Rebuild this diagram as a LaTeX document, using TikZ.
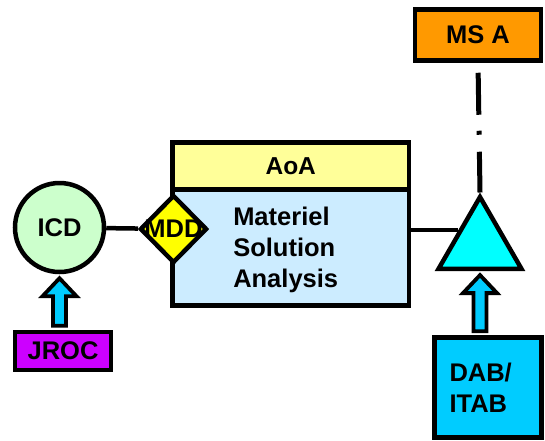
\documentclass[tikz,border=0pt]{standalone}
\usepackage{fontspec}
\setmainfont{Liberation Sans}
\usepackage{tikz}
\usetikzlibrary{shapes.geometric,calc}
\definecolor{icdgruen}{HTML}{CCFFCC}
\definecolor{mddgelb}{HTML}{FFFF00}
\definecolor{aoagelb}{HTML}{FFFF99}
\definecolor{msablau}{HTML}{CCECFF}
\definecolor{dreieck}{HTML}{00FFFF}
\definecolor{msorange}{HTML}{FF9900}
\definecolor{dabblau}{HTML}{00CCFF}
\definecolor{jroclila}{HTML}{CC00FF}
\definecolor{hebblau}{HTML}{00CCFF}

% block arrow pointing up, from #1 (below) to #2 (above)
\newcommand\hebepfeil[2]{%
  \draw[hebestil] let \p1=(#1), \p2=(#2) in
    (\x1-6.5pt,\y1+4pt) -- (\x1-6.5pt,\y2-22pt) -- (\x1-17pt,\y2-22pt) -- (\x1,\y2-4pt)
    -- (\x1+17pt,\y2-22pt) -- (\x1+6.5pt,\y2-22pt) -- (\x1+6.5pt,\y1+4pt) -- cycle;}

\begin{document}
\begin{tikzpicture}[x=1pt, y=-1pt, line width=4.5pt,
    every node/.style={draw=black, line width=4.5pt, inner sep=0pt, font=\bfseries\fontsize{25.5}{31}\selectfont},
    hebestil/.style={draw=black, fill=hebblau, line width=3.8pt}]
        \useasboundingbox (0,0) rectangle (545,440);
        \node[rectangle, fill=aoagelb, minimum width=236.5, minimum height=47, font=\bfseries\fontsize{24.5}{28}\selectfont] (aoa) at (290.75,166) {AoA};
        \node[rectangle, fill=msablau, minimum width=236.5, minimum height=116] (analysis) at (290.75,247.5) {};
        \node[draw=none, anchor=west, align=left] (analysistext) at (231,249.5) {Materiel\\Solution\\Analysis};
        \node[circle, fill=icdgruen, minimum size=89] (icd) at (59.5,227.5) {ICD};
        \node[diamond, fill=mddgelb, minimum width=67, minimum height=68] (mdd) at (173.5,229) {\makebox[0pt]{MDD}};
        \node[rectangle, fill=jroclila, minimum width=96, minimum height=38] (jroc) at (63,351) {JROC};
        \node[regular polygon, regular polygon sides=3, fill=dreieck, minimum size=95.8] (decision) at (480,244.9) {};
        \node[rectangle, fill=msorange, minimum width=126, minimum height=51] (milestone) at (478,35) {MS A};
        \node[rectangle, fill=dabblau, minimum width=107, minimum height=100, text width=77, inner xsep=15, align=left] (dab) at (488,387.5) {DAB/\\ITAB};
        \draw (icd) -- (mdd);
        \draw (decision.146 -| analysis.east) -- (decision.146);
        \draw[line width=5pt, dash pattern=on 0pt off 10pt on 42pt off 16pt on 4pt off 17pt on 80pt] (milestone.south) -- (decision.north);
        \hebepfeil{jroc.north -| icd.south}{icd.south}
        \hebepfeil{dab.north -| decision.south}{decision.south}
    \end{tikzpicture}
\end{document}
